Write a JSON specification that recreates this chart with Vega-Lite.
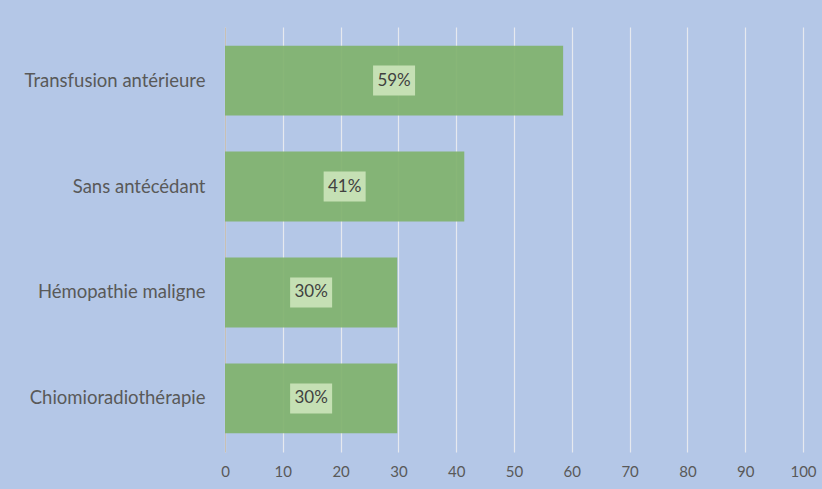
{
  "$schema": "https://vega.github.io/schema/vega-lite/v6.json",
  "width": 578,
  "height": 425,
  "autosize": {"type": "none"},
  "padding": {"left": 225, "top": 27, "right": 19, "bottom": 37},
  "background": "#B4C7E7",
  "config": {"view": {"stroke": null}, "font": "Lato"},
  "data": {"values": [
    {"cat": "Transfusion antérieure", "value": 58.5, "label": "59%"},
    {"cat": "Sans antécédant", "value": 41.4, "label": "41%"},
    {"cat": "Hémopathie maligne", "value": 29.8, "label": "30%"},
    {"cat": "Chiomioradiothérapie", "value": 29.8, "label": "30%"}
  ]},
  "transform": [{"calculate": "datum.value / 2", "as": "mid"}],
  "encoding": {
    "y": {"field": "cat", "type": "nominal", "sort": null,
      "scale": {"paddingInner": 0.34, "paddingOuter": 0.176},
      "axis": {"title": null, "ticks": false, "labelPadding": 20, "labelFontSize": 18.5, "labelColor": "#595959", "domainColor": "#C8C0B4", "labelLimit": 300}}
  },
  "layer": [
    {"mark": {"type": "bar", "color": "#80B26C", "opacity": 0.92},
     "encoding": {"x": {"field": "value", "type": "quantitative",
       "scale": {"domain": [0, 100]},
       "axis": {"title": null, "values": [0,10,20,30,40,50,60,70,80,90,100], "ticks": false, "domain": false, "labelFlush": false, "labelPadding": 12, "labelFontSize": 15, "labelColor": "#595959", "gridColor": "#E6E9EF", "gridOpacity": 1, "gridWidth": 1.2}}}},
    {"mark": {"type": "point", "shape": "M-1.4,-1L1.4,-1L1.4,1L-1.4,1Z", "size": 900, "filled": true, "color": "#C5E0B4", "opacity": 1},
     "encoding": {"x": {"field": "mid", "type": "quantitative"}}},
    {"mark": {"type": "text", "fontSize": 17, "color": "#404040", "align": "center", "baseline": "middle"},
     "encoding": {"x": {"field": "mid", "type": "quantitative"}, "text": {"field": "label"}}}
  ]
}
